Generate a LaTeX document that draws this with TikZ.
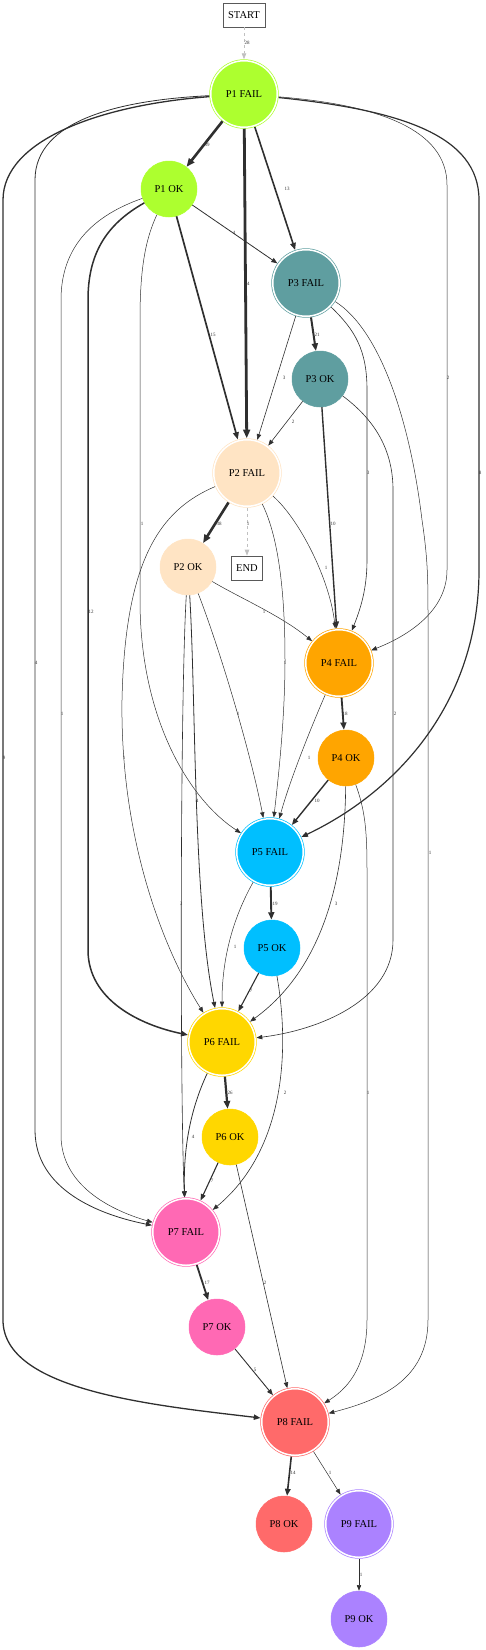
\documentclass[tikz,border=0pt]{standalone}
\usepackage{fontspec}
\setmainfont{Liberation Serif}
\usetikzlibrary{arrows.meta}
\definecolor{pone}{HTML}{ADFF2F}
\definecolor{ptwo}{HTML}{FFE4C4}
\definecolor{pthree}{HTML}{5F9EA0}
\definecolor{pfour}{HTML}{FFA500}
\definecolor{pfive}{HTML}{00BFFF}
\definecolor{psix}{HTML}{FFD700}
\definecolor{pseven}{HTML}{FF69B4}
\definecolor{peight}{HTML}{FF6A6A}
\definecolor{pnine}{HTML}{AB82FF}
\definecolor{edgecol}{HTML}{2F2F2F}
\definecolor{dashcol}{HTML}{C0C0C0}
\tikzset{
  failnode/.style={circle, minimum size=66.5pt, inner sep=0pt, outer sep=1.5pt,
    fill=#1, draw=#1, double=white, double distance=1.5pt, line width=0.7pt,
    font=\fontsize{10.5}{12}\selectfont},
  oknode/.style={circle, minimum size=56pt, inner sep=0pt, outer sep=0.3pt,
    fill=#1, draw=#1, line width=0.5pt, font=\fontsize{10.5}{12}\selectfont},
  termbox/.style={rectangle, draw=black!65, line width=0.7pt, minimum height=24pt,
    inner xsep=5pt, font=\fontsize{10.5}{12}\selectfont},
  conn/.style={draw=edgecol, line width=#1, -{Triangle[length=5pt 1.3, width=3.8pt 1.1]}},
  dashconn/.style={draw=dashcol, dashed, line width=0.7pt, -{Triangle[length=6pt, width=4.5pt]}},
  elabel/.style={font=\fontsize{5}{6}\selectfont, text=black!80, inner sep=0pt},
}
\begin{document}
\begin{tikzpicture}[x=1pt,y=-1pt]
\useasboundingbox (0,0) rectangle (486,1650);
% nodes
\node[termbox] (START) at (244,15) {START};
\node[failnode=pone] (P1F) at (244,94) {P1 FAIL};
\node[oknode=pone] (P1OK) at (169,189) {P1 OK};
\node[failnode=pthree] (P3F) at (306,283) {P3 FAIL};
\node[oknode=pthree] (P3OK) at (320,379) {P3 OK};
\node[failnode=ptwo] (P2F) at (247,473) {P2 FAIL};
\node[oknode=ptwo] (P2OK) at (188,567) {P2 OK};
\node[termbox] (END) at (247,568) {END};
\node[failnode=pfour] (P4F) at (339,663) {P4 FAIL};
\node[oknode=pfour] (P4OK) at (346,758) {P4 OK};
\node[failnode=pfive] (P5F) at (270,852) {P5 FAIL};
\node[oknode=pfive] (P5OK) at (272,948) {P5 OK};
\node[failnode=psix] (P6F) at (222,1042) {P6 FAIL};
\node[oknode=psix] (P6OK) at (230,1137) {P6 OK};
\node[failnode=pseven] (P7F) at (186,1232) {P7 FAIL};
\node[oknode=pseven] (P7OK) at (217,1327) {P7 OK};
\node[failnode=peight] (P8F) at (295,1422) {P8 FAIL};
\node[oknode=peight] (P8OK) at (284,1524) {P8 OK};
\node[failnode=pnine] (P9F) at (359,1524) {P9 FAIL};
\node[oknode=pnine] (P9OK) at (359,1619) {P9 OK};
% edges
\draw[dashconn] (START) -- (P1F);
\draw[conn=2.6pt] (P1F) -- (P1OK);
\draw[conn=2.8pt] (P1F) -- (P2F);
\draw[conn=1.6pt] (P1F) -- (P3F);
\draw[conn=0.5pt] (P1F) .. controls (380,105) and (447,130) .. (447,185) -- (447,570) .. controls (447,610) and (410,635) .. (P4F);
\draw[conn=1.2pt] (P1F) .. controls (400,110) and (479,135) .. (479,200) -- (479,570) .. controls (479,700) and (400,790) .. (P5F);
\draw[conn=0.8pt] (P1F) .. controls (120,100) and (35,120) .. (35,180) -- (35,1130) .. controls (35,1190) and (100,1215) .. (P7F);
\draw[conn=1.3pt] (P1F) .. controls (100,105) and (3,140) .. (3,200) -- (3,1320) .. controls (3,1390) and (150,1405) .. (P8F);
\draw[conn=0.8pt] (P1OK) -- (P3F);
\draw[conn=1.7pt] (P1OK) -- (P2F);
\draw[conn=1.5pt] (P1OK) .. controls (105,225) and (88,255) .. (88,300) -- (88,950) .. controls (88,1000) and (140,1025) .. (P6F);
\draw[conn=0.5pt] (P1OK) .. controls (95,215) and (61,245) .. (61,300) -- (61,1135) .. controls (61,1185) and (110,1210) .. (P7F);
\draw[conn=0.5pt] (P1OK) .. controls (145,240) and (140,270) .. (140,320) -- (140,600) .. controls (140,720) and (190,800) .. (P5F);
\draw[conn=2pt] (P3F) -- (P3OK);
\draw[conn=0.6pt] (P3F) -- (P2F);
\draw[conn=0.6pt] (P3F) .. controls (355,330) and (367,350) .. (367,390) -- (367,560) .. controls (367,590) and (360,610) .. (P4F);
\draw[conn=0.5pt] (P3F) .. controls (380,330) and (410,420) .. (422,520) .. controls (428,560) and (428,580) .. (428,620) -- (428,1320) .. controls (428,1380) and (380,1400) .. (P8F);
\draw[conn=0.6pt] (P3OK) -- (P2F);
\draw[conn=1.4pt] (P3OK) -- (P4F);
\draw[conn=0.6pt] (P3OK) .. controls (375,420) and (393,450) .. (393,490) -- (393,940) .. controls (393,1000) and (320,1030) .. (P6F);
\draw[conn=2.6pt] (P2F) -- (P2OK);
\draw[dashconn] (P2F) -- (END);
\draw[conn=0.5pt] (P2F) .. controls (160,510) and (125,560) .. (122,700) .. controls (120,850) and (170,960) .. (P6F);
\draw[conn=0.5pt] (P2F) .. controls (280,540) and (285,600) .. (285,660) .. controls (285,720) and (278,780) .. (P5F);
\draw[conn=0.5pt] (P2F) .. controls (300,520) and (330,580) .. (P4F);
\draw[conn=0.5pt] (P2OK) .. controls (240,598) and (280,615) .. (P4F);
\draw[conn=0.5pt] (P2OK) .. controls (220,650) and (250,750) .. (P5F);
\draw[conn=0.8pt] (P2OK) .. controls (196,700) and (193,900) .. (P6F);
\draw[conn=0.6pt] (P2OK) .. controls (180,700) and (180,1100) .. (P7F);
\draw[conn=1.8pt] (P4F) -- (P4OK);
\draw[conn=0.5pt] (P4F) .. controls (310,730) and (290,780) .. (P5F);
\draw[conn=1.4pt] (P4OK) -- (P5F);
\draw[conn=0.6pt] (P4OK) .. controls (345,850) and (335,960) .. (P6F);
\draw[conn=0.5pt] (P4OK) .. controls (365,810) and (367,830) .. (367,870) -- (367,1320) .. controls (367,1370) and (345,1390) .. (P8F);
\draw[conn=1.9pt] (P5F) -- (P5OK);
\draw[conn=0.5pt] (P5F) .. controls (232,920) and (222,960) .. (P6F);
\draw[conn=1.1pt] (P5OK) -- (P6F);
\draw[conn=0.6pt] (P5OK) .. controls (290,1050) and (285,1150) .. (P7F);
\draw[conn=2.2pt] (P6F) -- (P6OK);
\draw[conn=0.8pt] (P6F) .. controls (190,1110) and (183,1150) .. (P7F);
\draw[conn=1.1pt] (P6OK) -- (P7F);
\draw[conn=0.6pt] (P6OK) -- (P8F);
\draw[conn=1.8pt] (P7F) -- (P7OK);
\draw[conn=0.9pt] (P7OK) -- (P8F);
\draw[conn=1.6pt] (P8F) -- (P8OK);
\draw[conn=0.5pt] (P8F) -- (P9F);
\draw[conn=0.5pt] (P9F) -- (P9OK);
% edge labels
\node[elabel] (l01) at (247,43) {28};
\node[elabel] (l02) at (207,145) {39};
\node[elabel] (l03) at (287,189) {13};
\node[elabel] (l04) at (234,233) {4};
\node[elabel] (l05) at (247,284) {44};
\node[elabel] (l06) at (213,335) {15};
\node[elabel] (l07) at (317,335) {21};
\node[elabel] (l08) at (284,378) {3};
\node[elabel] (l09) at (448,378) {2};
\node[elabel] (l10) at (293,422) {2};
\node[elabel] (l11) at (368,473) {3};
\node[elabel] (l12) at (480,473) {8};
\node[elabel] (l13) at (142,524) {1};
\node[elabel] (l14) at (219,524) {38};
\node[elabel] (l15) at (248,524) {1};
\node[elabel] (l16) at (333,524) {10};
\node[elabel] (l17) at (326,568) {1};
\node[elabel] (l18) at (91,612) {12};
\node[elabel] (l19) at (264,612) {1};
\node[elabel] (l20) at (36,663) {4};
\node[elabel] (l21) at (285,663) {1};
\node[elabel] (l22) at (62,714) {1};
\node[elabel] (l23) at (238,714) {1};
\node[elabel] (l24) at (345,714) {18};
\node[elabel] (l25) at (395,714) {2};
\node[elabel] (l26) at (4,758) {9};
\node[elabel] (l27) at (124,758) {1};
\node[elabel] (l28) at (309,758) {1};
\node[elabel] (l29) at (197,801) {4};
\node[elabel] (l30) at (317,801) {10};
\node[elabel] (l31) at (430,853) {1};
\node[elabel] (l32) at (181,904) {3};
\node[elabel] (l33) at (275,904) {19};
\node[elabel] (l34) at (336,904) {3};
\node[elabel] (l35) at (235,947) {1};
\node[elabel] (l36) at (251,991) {7};
\node[elabel] (l37) at (230,1093) {26};
\node[elabel] (l38) at (285,1093) {2};
\node[elabel] (l39) at (368,1093) {1};
\node[elabel] (l40) at (193,1137) {4};
\node[elabel] (l41) at (212,1181) {7};
\node[elabel] (l42) at (207,1283) {17};
\node[elabel] (l43) at (265,1283) {2};
\node[elabel] (l44) at (255,1370) {5};
\node[elabel] (l45) at (293,1473) {14};
\node[elabel] (l46) at (330,1473) {1};
\node[elabel] (l47) at (361,1575) {1};
\end{tikzpicture}
\end{document}
